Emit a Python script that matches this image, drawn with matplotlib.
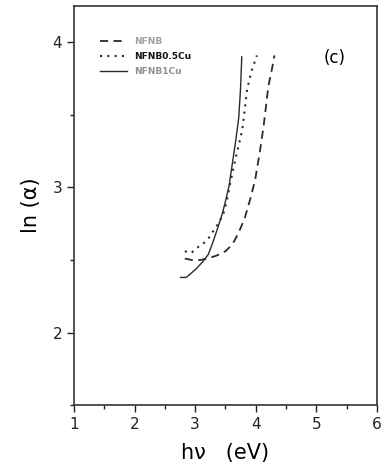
import numpy as np
import matplotlib
matplotlib.use("Agg")
import matplotlib.pyplot as plt
from matplotlib.ticker import MultipleLocator

# values
hv_nfnb = [2.83, 2.95, 3.08, 3.20, 3.35, 3.50, 3.62, 3.72, 3.82, 3.91, 3.99, 4.07, 4.13, 4.21, 4.27, 4.31]
ln_nfnb = [2.51, 2.50, 2.50, 2.51, 2.53, 2.56, 2.61, 2.69, 2.79, 2.92, 3.05, 3.25, 3.42, 3.70, 3.82, 3.91]

hv_05cu = [2.83, 2.94, 3.05, 3.13, 3.24, 3.30, 3.38, 3.46, 3.52, 3.57, 3.63, 3.68, 3.78, 3.86, 3.93, 4.02]
ln_05cu = [2.56, 2.55, 2.59, 2.61, 2.66, 2.70, 2.75, 2.81, 2.90, 3.01, 3.13, 3.22, 3.40, 3.68, 3.80, 3.91]

hv_1cu = [2.76, 2.85, 2.91, 3.02, 3.13, 3.22, 3.30, 3.38, 3.45, 3.51, 3.56, 3.62, 3.67, 3.72, 3.75, 3.77]
ln_1cu = [2.38, 2.38, 2.40, 2.44, 2.49, 2.54, 2.63, 2.73, 2.82, 2.92, 3.01, 3.18, 3.32, 3.48, 3.68, 3.90]

labels = ["NFNB", "NFNB0.5Cu", "NFNB1Cu"]
label_colors = ["#a0a0a0", "#111111", "#909090"]

fig = plt.figure(figsize=(3.83, 4.70), dpi=100)
ax = fig.add_axes([0.193, 0.138, 0.791, 0.849])

lc = "#2a2a2a"
ax.plot(hv_nfnb, ln_nfnb, color=lc, ls=(0, (4.5, 3)), lw=1.3, label=labels[0])
ax.plot(hv_05cu, ln_05cu, color=lc, ls=(0, (1, 2.5)), lw=1.5, label=labels[1])
ax.plot(hv_1cu, ln_1cu, color=lc, ls="-", lw=1.0, label=labels[2])

ax.set_xlim(1, 6)
ax.set_ylim(1.5, 4.25)
ax.xaxis.set_major_locator(MultipleLocator(1))
ax.xaxis.set_minor_locator(MultipleLocator(0.5))
ax.yaxis.set_major_locator(MultipleLocator(1))
ax.yaxis.set_minor_locator(MultipleLocator(0.5))
ax.tick_params(which="both", direction="out", top=False, right=False,
               labelsize=11, colors="#222222", width=1.0)
ax.tick_params(which="major", length=5)
ax.tick_params(which="minor", length=3)
for s in ax.spines.values():
    s.set_linewidth(1.2)
    s.set_color("#333333")

ax.set_xlabel("h\u03bd   (eV)", fontsize=15, labelpad=8)
ax.set_ylabel("ln (\u03b1)", fontsize=15, labelpad=8)

leg = ax.legend(loc="upper left", bbox_to_anchor=(0.06, 0.942), frameon=False,
                fontsize=6.5, handlelength=3.0, handletextpad=0.8,
                labelspacing=0.65)
for t, c in zip(leg.get_texts(), label_colors):
    t.set_color(c)
    t.set_fontweight("bold")

ax.text(0.86, 0.87, "(c)", transform=ax.transAxes, fontsize=12,
        ha="center", va="center")

fig.savefig("out.png", dpi=100)
